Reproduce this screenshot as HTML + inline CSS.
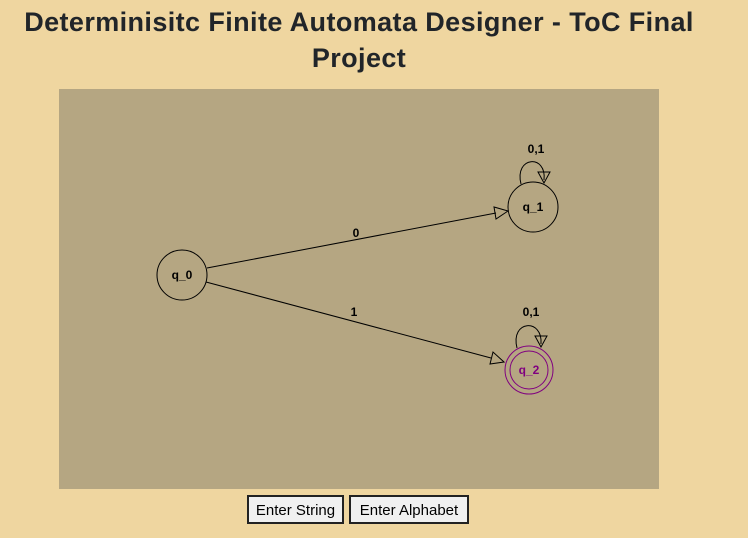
<!DOCTYPE html>
<html><head><meta charset="utf-8"><style>
html,body{margin:0;padding:0;background:#efd6a0;width:748px;height:538px;overflow:hidden}
h1{position:absolute;left:0;top:4px;width:718px;margin:0;text-align:center;font:bold 27px/36px "Liberation Sans",sans-serif;color:#212529;letter-spacing:0.4px;white-space:nowrap}
#c{position:absolute;left:59px;top:89px;width:600px;height:400px;background:#b5a682}
.b{position:absolute;top:495px;height:29px;box-sizing:border-box;border:2px solid #222;background:#f0f0f0;font:15px/27px "Liberation Sans",sans-serif;color:#000;text-align:center}
</style></head><body>
<h1>Determinisitc Finite Automata Designer - ToC Final<br>Project</h1>
<div id="c"></div>
<svg width="748" height="538" style="position:absolute;left:0;top:0" font-family="Liberation Sans, sans-serif" font-weight="bold" font-size="12">
<g fill="none" stroke="#000" stroke-width="1">
<circle cx="182" cy="275" r="25"/>
<circle cx="533" cy="207" r="25"/>
<line x1="207" y1="268" x2="496" y2="213"/>
<polygon points="508,211 494,207 496,219" />
<line x1="206" y1="282" x2="491" y2="358"/>
<polygon points="504,362 493,352 490,364"/>
<path d="M521,184 C514,156 547,154 544,180"/>
<polygon points="544,183 538,172 550,172"/>
<path d="M517,348 C510,320 543,318 541,344"/>
<polygon points="541,347 535,336 547,336"/>
</g>
<g fill="none" stroke="#800080" stroke-width="1">
<circle cx="529" cy="370" r="24"/>
<circle cx="529" cy="370" r="19"/>
</g>
<text x="182" y="279" text-anchor="middle">q_0</text>
<text x="533" y="211" text-anchor="middle">q_1</text>
<text x="529" y="374" text-anchor="middle" fill="#800080">q_2</text>
<text x="356" y="237" text-anchor="middle">0</text>
<text x="354" y="316" text-anchor="middle">1</text>
<text x="536" y="153" text-anchor="middle">0,1</text>
<text x="531" y="316" text-anchor="middle">0,1</text>
</svg>
<div class="b" style="left:247px;width:97px">Enter String</div>
<div class="b" style="left:349px;width:120px">Enter Alphabet</div>
</body></html>
